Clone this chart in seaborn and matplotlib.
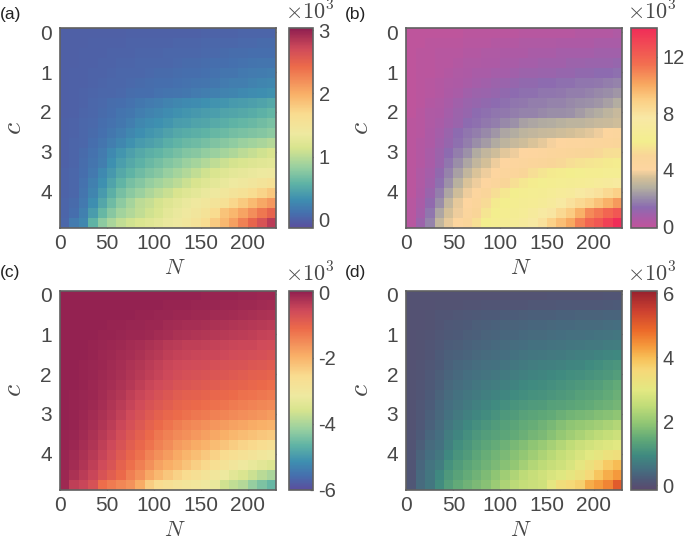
import numpy as np
import seaborn as sns
import matplotlib
matplotlib.use('Agg')
import matplotlib.pyplot as plt
from matplotlib.colors import LinearSegmentedColormap

# x10^3 values are stored as integers: a, c, d in units of 10, b in units of 100
panel_a = [
    [0, 0, 0, 0, 0, 0, 0, 1, 1, 1, 1, 1, 1, 1, 1, 2, 2, 2, 2, 3, 3, 3, 3],
    [0, 0, 0, 1, 1, 1, 1, 2, 2, 2, 2, 2, 3, 3, 3, 4, 4, 5, 5, 6, 6, 7, 7],
    [0, 0, 1, 1, 1, 2, 2, 2, 3, 3, 3, 4, 4, 5, 5, 6, 6, 7, 8, 8, 9, 10, 10],
    [0, 0, 1, 1, 2, 2, 3, 3, 4, 4, 5, 5, 6, 7, 7, 8, 9, 10, 11, 12, 13, 14, 15],
    [0, 1, 1, 2, 2, 3, 4, 4, 5, 6, 7, 7, 8, 9, 10, 11, 12, 14, 15, 17, 18, 19, 21],
    [0, 1, 1, 2, 3, 4, 5, 6, 7, 8, 9, 10, 11, 12, 13, 15, 16, 18, 20, 21, 23, 25, 27],
    [0, 1, 2, 3, 4, 5, 6, 8, 9, 10, 12, 13, 15, 16, 18, 20, 22, 24, 26, 28, 30, 32, 34],
    [0, 1, 2, 4, 6, 8, 10, 12, 16, 18, 21, 24, 27, 29, 31, 33, 35, 37, 40, 42, 44, 47, 50],
    [0, 1, 3, 5, 7, 10, 13, 16, 21, 24, 27, 30, 34, 36, 39, 41, 43, 46, 48, 50, 53, 56, 60],
    [1, 2, 4, 6, 9, 12, 16, 21, 27, 30, 33, 37, 41, 43, 46, 48, 51, 54, 57, 60, 63, 66, 70],
    [1, 2, 4, 7, 11, 16, 21, 27, 32, 36, 40, 45, 50, 52, 55, 58, 61, 64, 67, 70, 72, 75, 78],
    [1, 3, 5, 9, 14, 20, 27, 34, 40, 44, 48, 54, 59, 62, 65, 68, 72, 76, 80, 84, 88, 92, 97],
    [1, 3, 7, 12, 18, 28, 36, 44, 50, 55, 59, 64, 68, 73, 76, 81, 85, 90, 94, 100, 105, 110, 115],
    [1, 3, 8, 14, 21, 33, 43, 50, 56, 62, 67, 73, 79, 85, 90, 96, 102, 108, 113, 117, 120, 123, 125],
    [2, 4, 10, 17, 28, 39, 50, 58, 65, 71, 76, 83, 89, 96, 103, 110, 117, 122, 126, 129, 132, 135, 138],
    [2, 5, 12, 22, 33, 47, 59, 68, 75, 82, 88, 95, 100, 108, 115, 121, 127, 131, 136, 140, 145, 150, 155],
    [2, 5, 14, 25, 40, 55, 68, 77, 85, 93, 100, 107, 115, 121, 127, 133, 138, 144, 150, 156, 164, 173, 182],
    [3, 7, 17, 32, 49, 65, 78, 89, 100, 106, 113, 120, 126, 133, 139, 144, 150, 159, 171, 181, 192, 204, 214],
    [3, 9, 22, 41, 61, 76, 88, 96, 103, 111, 117, 126, 132, 139, 145, 153, 167, 185, 194, 206, 220, 235, 248],
    [4, 18, 27, 58, 78, 92, 103, 110, 116, 122, 127, 132, 138, 144, 152, 165, 179, 193, 209, 228, 247, 263, 282],
]

panel_b = [
    [0, 0, 0, 0, 0, 0, 1, 1, 1, 1, 1, 1, 2, 2, 2, 2, 2, 2, 3, 3, 3, 3, 4],
    [0, 0, 1, 1, 1, 1, 2, 2, 2, 3, 3, 3, 4, 4, 4, 4, 5, 5, 5, 5, 6, 6, 6],
    [0, 1, 1, 2, 2, 2, 3, 3, 4, 4, 5, 5, 5, 6, 6, 6, 7, 7, 7, 7, 8, 8, 8],
    [0, 1, 1, 2, 2, 3, 4, 4, 5, 5, 6, 6, 7, 7, 8, 8, 8, 9, 9, 10, 10, 10, 11],
    [0, 1, 1, 2, 3, 4, 5, 6, 6, 7, 7, 8, 9, 9, 10, 10, 11, 11, 12, 12, 13, 13, 14],
    [0, 1, 2, 3, 4, 5, 6, 7, 8, 9, 10, 11, 12, 12, 13, 13, 14, 14, 15, 15, 16, 17, 18],
    [0, 1, 2, 3, 5, 6, 8, 9, 10, 11, 12, 13, 14, 14, 15, 15, 16, 17, 17, 18, 19, 20, 22],
    [0, 1, 3, 4, 6, 8, 10, 11, 12, 13, 14, 15, 16, 17, 17, 18, 18, 19, 20, 21, 22, 24, 27],
    [0, 2, 4, 5, 7, 9, 11, 13, 14, 15, 16, 17, 18, 18, 19, 20, 20, 21, 23, 25, 27, 29, 31],
    [1, 2, 4, 6, 8, 10, 13, 14, 16, 17, 19, 21, 24, 25, 26, 27, 28, 29, 29, 30, 31, 32, 33],
    [1, 2, 5, 7, 10, 13, 15, 17, 19, 22, 25, 27, 29, 30, 31, 32, 33, 34, 35, 36, 38, 42, 44],
    [1, 3, 5, 8, 11, 14, 17, 20, 23, 26, 29, 31, 33, 35, 37, 39, 41, 42, 43, 44, 45, 46, 47],
    [1, 3, 6, 9, 13, 17, 21, 26, 30, 33, 36, 38, 40, 41, 43, 45, 46, 47, 49, 50, 51, 53, 54],
    [1, 3, 6, 10, 15, 20, 25, 30, 34, 38, 40, 42, 44, 46, 48, 50, 51, 53, 55, 56, 57, 58, 59],
    [1, 4, 7, 12, 18, 24, 30, 35, 38, 41, 44, 46, 50, 53, 56, 58, 59, 60, 61, 62, 62, 63, 63],
    [1, 4, 8, 14, 21, 28, 35, 38, 41, 45, 50, 54, 57, 59, 61, 62, 63, 64, 65, 66, 68, 70, 72],
    [1, 5, 10, 17, 25, 33, 38, 42, 47, 53, 57, 60, 62, 63, 64, 66, 68, 70, 74, 78, 80, 84, 88],
    [2, 6, 12, 20, 30, 37, 41, 46, 52, 58, 60, 62, 64, 65, 67, 70, 74, 80, 84, 88, 93, 98, 104],
    [2, 7, 15, 25, 34, 38, 44, 50, 56, 60, 62, 64, 66, 70, 74, 78, 84, 90, 98, 108, 112, 118, 124],
    [2, 9, 18, 30, 37, 42, 48, 54, 60, 62, 64, 66, 70, 74, 80, 88, 94, 100, 110, 118, 124, 132, 140],
]

# panel c holds these magnitudes with a minus sign
panel_c = [
    [0, 0, 0, 0, 0, 0, 0, 0, 1, 1, 1, 1, 2, 2, 2, 3, 3, 3, 4, 5, 6, 7, 8],
    [0, 0, 0, 0, 1, 1, 1, 1, 2, 2, 2, 3, 4, 4, 5, 6, 6, 7, 8, 10, 11, 12, 14],
    [0, 0, 0, 1, 1, 1, 2, 2, 3, 4, 5, 6, 8, 9, 10, 11, 12, 13, 15, 17, 19, 21, 24],
    [0, 0, 1, 1, 2, 3, 4, 5, 6, 7, 9, 12, 15, 17, 18, 20, 22, 24, 26, 29, 31, 33, 36],
    [0, 1, 1, 2, 3, 4, 5, 7, 9, 11, 14, 18, 22, 25, 27, 29, 31, 34, 36, 39, 42, 45, 48],
    [0, 1, 1, 3, 5, 7, 10, 14, 18, 23, 28, 33, 37, 40, 42, 44, 46, 48, 50, 52, 54, 57, 60],
    [0, 1, 2, 4, 7, 10, 14, 18, 23, 29, 35, 40, 45, 48, 50, 52, 54, 56, 59, 62, 65, 68, 72],
    [1, 1, 3, 5, 9, 13, 17, 24, 30, 37, 44, 50, 55, 58, 60, 63, 66, 69, 72, 75, 78, 81, 85],
    [1, 2, 3, 6, 10, 14, 19, 26, 33, 41, 49, 56, 63, 66, 70, 73, 76, 80, 84, 88, 92, 96, 100],
    [1, 2, 4, 7, 12, 17, 24, 32, 41, 50, 58, 65, 73, 77, 81, 85, 89, 93, 97, 101, 106, 110, 115],
    [1, 3, 5, 9, 15, 21, 30, 40, 51, 61, 70, 79, 88, 92, 96, 100, 104, 108, 113, 118, 122, 126, 130],
    [1, 3, 6, 11, 18, 26, 36, 48, 60, 71, 82, 91, 100, 105, 110, 114, 119, 124, 130, 135, 140, 145, 150],
    [2, 4, 8, 14, 22, 32, 44, 57, 70, 83, 95, 104, 113, 120, 126, 132, 138, 143, 149, 155, 160, 165, 170],
    [2, 4, 10, 17, 27, 38, 52, 67, 81, 97, 110, 122, 134, 142, 149, 156, 163, 170, 177, 184, 189, 195, 200],
    [3, 5, 12, 21, 33, 46, 62, 78, 93, 110, 125, 137, 149, 158, 167, 176, 185, 195, 204, 212, 219, 225, 230],
    [4, 9, 17, 27, 41, 55, 72, 90, 106, 122, 139, 153, 168, 178, 189, 200, 212, 224, 235, 244, 252, 261, 270],
    [5, 12, 22, 33, 49, 65, 84, 102, 120, 140, 158, 172, 187, 201, 214, 228, 241, 255, 268, 279, 290, 300, 310],
    [6, 16, 28, 42, 58, 75, 97, 117, 136, 158, 177, 192, 205, 221, 237, 252, 268, 283, 298, 313, 328, 340, 350],
    [8, 22, 36, 50, 72, 90, 110, 135, 158, 185, 207, 226, 243, 256, 271, 286, 302, 318, 338, 354, 370, 385, 400],
    [10, 40, 50, 70, 115, 130, 145, 160, 190, 235, 255, 270, 285, 295, 300, 310, 325, 365, 380, 392, 420, 440, 460],
]

panel_d = [
    [1, 1, 1, 1, 1, 1, 2, 2, 3, 3, 4, 4, 5, 5, 5, 6, 6, 6, 7, 7, 7, 8, 8],
    [2, 2, 3, 4, 4, 5, 6, 7, 8, 8, 9, 9, 10, 11, 11, 12, 13, 13, 14, 14, 15, 16, 18],
    [2, 3, 4, 8, 10, 12, 15, 17, 19, 20, 21, 22, 24, 25, 26, 27, 28, 29, 30, 31, 32, 33, 34],
    [2, 3, 5, 10, 14, 17, 20, 23, 26, 28, 30, 32, 34, 35, 37, 38, 40, 41, 42, 43, 44, 46, 48],
    [3, 4, 6, 12, 17, 20, 24, 27, 30, 33, 35, 37, 40, 42, 44, 46, 48, 50, 51, 53, 55, 57, 60],
    [3, 5, 8, 15, 21, 24, 29, 33, 37, 40, 43, 46, 49, 52, 54, 56, 58, 60, 62, 64, 66, 69, 72],
    [3, 5, 10, 18, 25, 29, 34, 38, 42, 45, 49, 53, 58, 61, 63, 66, 68, 72, 75, 78, 82, 86, 90],
    [3, 6, 12, 20, 29, 35, 41, 45, 50, 54, 58, 62, 68, 72, 74, 77, 80, 84, 88, 94, 100, 106, 112],
    [4, 7, 14, 23, 33, 40, 47, 52, 58, 63, 68, 73, 78, 82, 85, 89, 93, 98, 102, 107, 112, 117, 123],
    [4, 8, 16, 27, 39, 46, 54, 60, 67, 73, 78, 83, 90, 94, 97, 101, 106, 111, 116, 121, 126, 135, 146],
    [4, 9, 19, 31, 43, 52, 61, 68, 75, 82, 88, 95, 100, 104, 107, 112, 117, 122, 127, 132, 138, 146, 155],
    [5, 11, 22, 35, 48, 57, 67, 76, 85, 94, 101, 108, 113, 118, 122, 127, 131, 136, 141, 146, 152, 158, 165],
    [5, 12, 25, 39, 54, 64, 76, 87, 97, 107, 115, 122, 131, 136, 140, 146, 155, 161, 167, 173, 179, 185, 192],
    [5, 15, 29, 44, 60, 75, 90, 101, 111, 121, 129, 136, 145, 151, 160, 169, 181, 191, 198, 206, 214, 224, 233],
    [6, 18, 35, 49, 69, 85, 102, 113, 124, 131, 139, 146, 156, 164, 173, 185, 199, 211, 223, 234, 245, 255, 265],
    [7, 24, 42, 54, 78, 98, 112, 126, 137, 148, 157, 169, 180, 192, 203, 217, 232, 247, 262, 272, 280, 289, 295],
    [8, 30, 49, 62, 90, 108, 122, 137, 150, 162, 172, 183, 197, 211, 225, 240, 254, 267, 281, 295, 309, 324, 338],
    [9, 36, 57, 72, 104, 120, 135, 147, 160, 172, 185, 197, 215, 232, 245, 256, 267, 281, 302, 327, 352, 380, 400],
    [10, 40, 61, 89, 117, 132, 147, 160, 175, 192, 210, 227, 245, 258, 268, 281, 292, 307, 327, 355, 387, 415, 435],
    [12, 42, 62, 97, 125, 145, 160, 172, 185, 205, 225, 242, 255, 262, 270, 302, 340, 357, 370, 415, 432, 455, 505],
]

n_ticks = [0, 50, 100, 150, 200]
c_ticks = [0, 1, 2, 3, 4]

spectral = ['#5a4f9e', '#4570ae', '#3e8fb0', '#5fb3a5', '#97cfa0', '#d8e48e',
            '#eee9a0', '#f9dc90', '#f9b068', '#ec6a4a', '#cf4a5a', '#8f1f50']
spectral_pos = [0, 0.07, 0.14, 0.22, 0.30, 0.40, 0.47, 0.57, 0.67, 0.81, 0.90, 1]
magenta = ['#c0549b', '#a85ca8', '#8c6cb0', '#9a8fa8', '#b5b0a0', '#d5c098', '#fdd5a0',
           '#f9d598', '#f3ee8e', '#f8e8a5', '#fbcf85', '#f8a860', '#f26f50', '#f02d58']
magenta_pos = [0, 0.05, 0.10, 0.15, 0.20, 0.25, 0.29, 0.36, 0.43, 0.55, 0.64, 0.72, 0.82, 1]
earth = ['#5a4a6e', '#4d5a78', '#456f80', '#3f8a80', '#5fa878', '#8fc574', '#c0dc78',
         '#e3e882', '#f6d878', '#f7c058', '#f59a3c', '#ec6a2a', '#cc4030', '#96202e']
earth_pos = [0, 0.05, 0.10, 0.17, 0.25, 0.33, 0.42, 0.50, 0.60, 0.66, 0.72, 0.80, 0.90, 1]

cmap_a = LinearSegmentedColormap.from_list('a', list(zip(spectral_pos, spectral)))
cmap_b = LinearSegmentedColormap.from_list('b', list(zip(magenta_pos, magenta)))
cmap_d = LinearSegmentedColormap.from_list('d', list(zip(earth_pos, earth)))

W, H = 685, 541
INK = '#484848'
EDGE = '#606060'

sns.set_theme(style='white')
plt.rcParams['font.family'] = ['Liberation Sans', 'DejaVu Sans']
plt.rcParams['mathtext.fontset'] = 'cm'

fig = plt.figure(figsize=(W / 100, H / 100), dpi=100)


def box(x0, x1, y0, y1):
    return [x0 / W, 1 - y1 / H, (x1 - x0) / W, (y1 - y0) / H]


def draw(data, cmap, vmin, vmax, ticks, labels, ax_x, cb_x, y, tag, tag_x, tag_y):
    ax = fig.add_axes(box(ax_x[0], ax_x[1], y[0], y[1]))
    cax = fig.add_axes(box(cb_x[0], cb_x[1], y[0], y[1]))
    sns.heatmap(np.array(data), ax=ax, cbar_ax=cax, cmap=cmap, vmin=vmin, vmax=vmax,
                xticklabels=False, yticklabels=False)

    # cells are 10 wide in N, 0.25 high in c, first row starts at c = -0.1
    ax.set_xticks([n / 10 for n in n_ticks], [str(n) for n in n_ticks])
    ax.set_yticks([(c + 0.1) * 4 for c in c_ticks], [str(c) for c in c_ticks], rotation=0)
    ax.tick_params(direction='in', length=2.5, width=0.9, color=EDGE, labelcolor=INK,
                   labelsize=15, top=True, right=True, bottom=True, left=True, pad=5)
    ax.tick_params(axis='y', pad=6)
    ax.set_xlabel('$N$', fontsize=16, color=INK, labelpad=3.5, x=0.53)
    ax.set_ylabel('$c$', fontsize=20, color=INK, labelpad=9)
    for s in ax.spines.values():
        s.set_visible(True)
        s.set_color(EDGE)
        s.set_linewidth(1.2)

    cb = ax.collections[0].colorbar
    cb.set_ticks(ticks, labels=labels)
    cb.ax.tick_params(direction='in', length=2.5, width=0.9, color=EDGE, labelcolor=INK,
                      labelsize=14.5, pad=4, right=True, left=False)
    cb.outline.set_visible(True)
    cb.outline.set_edgecolor(EDGE)
    cb.outline.set_linewidth(1.2)

    fig.text((cb_x[0] + 21) / W, 1 - (y[0] - 16) / H, r'$\times10^3$', fontsize=16,
             color=INK, ha='center', va='center')
    fig.text(tag_x / W, 1 - tag_y / H, tag, fontsize=12.5, color='#222222', va='center')


draw(panel_a, cmap_a, -12, 303, [0, 100, 200, 300], ['0', '1', '2', '3'],
     (60, 276), (289, 313), (28.3, 227.5), '(a)', 0, 14)
draw(panel_b, cmap_b, -1, 140, [0, 40, 80, 120], ['0', '4', '8', '12'],
     (406.5, 622), (631, 657), (28.3, 227.5), '(b)', 345, 14)
draw(-np.array(panel_c), cmap_a, -600, 5, [-600, -400, -200, 0], ['-6', '-4', '-2', '0'],
     (60, 276), (289, 313), (290.5, 489.5), '(c)', 0, 272)
draw(panel_d, cmap_d, -14, 608, [0, 200, 400, 600], ['0', '2', '4', '6'],
     (406.5, 622), (631, 657), (290.5, 489.5), '(d)', 345, 272)

fig.savefig('out.png', dpi=100)
